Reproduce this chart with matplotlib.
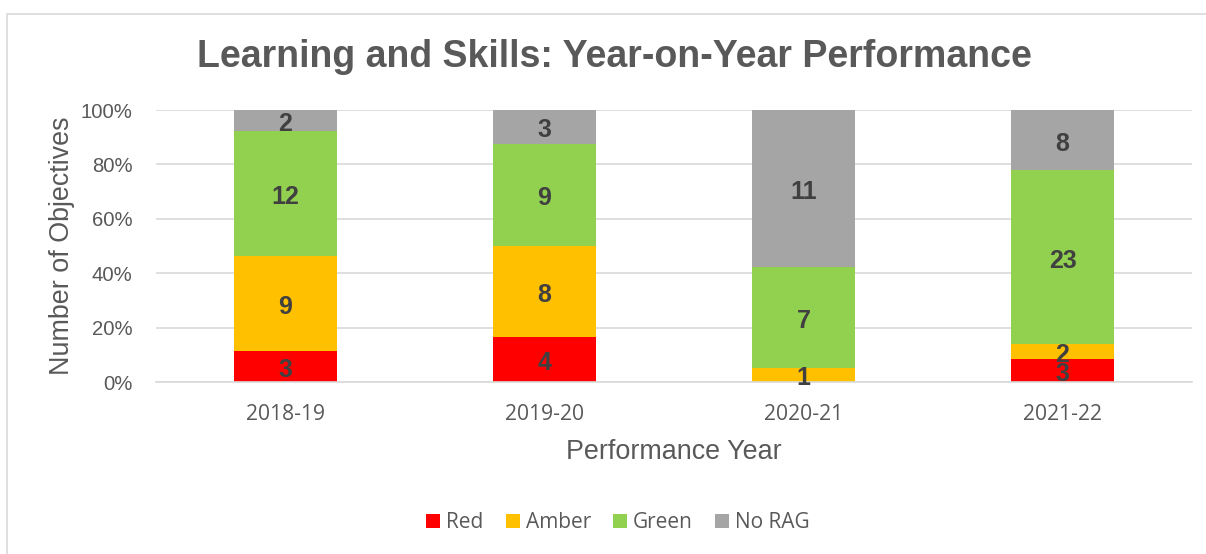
import matplotlib
matplotlib.use('Agg')
import matplotlib.pyplot as plt
from matplotlib.patches import Rectangle
import numpy as np

years = ['2018-19', '2019-20', '2020-21', '2021-22']
red = [3, 4, 0, 3]
amber = [9, 8, 1, 2]
green = [12, 9, 7, 23]
no_rag = [2, 3, 11, 8]

series = [('Red', red, '#FF0000'), ('Amber', amber, '#FFC000'),
          ('Green', green, '#92D050'), ('No RAG', no_rag, '#A5A5A5')]

totals = np.array(red) + np.array(amber) + np.array(green) + np.array(no_rag)

fig = plt.figure(figsize=(12.06, 5.54), dpi=100)
ax = fig.add_axes([156 / 1206, 1 - 382 / 554, (1192 - 156) / 1206, (382 - 110) / 554])

# chart border
fig.patches.append(Rectangle((7 / 1206, -0.01), 1.05, 1 - 14 / 554 + 0.01, transform=fig.transFigure,
                             fill=False, edgecolor='#D9D9D9', lw=1.2))

x = np.arange(len(years))
bottom = np.zeros(len(years))
for name, vals, col in series:
    share = np.array(vals) / totals
    ax.bar(x, share, 0.4, bottom=bottom, color=col, label=name, zorder=2)
    for xi, v, b, s in zip(x, vals, bottom, share):
        if v > 0:
            ax.annotate(str(v), (xi, b + s / 2), xytext=(0, -2.5), textcoords='offset points',
                        ha='center', va='center', fontsize=18, fontweight='bold',
                        color='#404040', family='Liberation Sans', zorder=3)
    bottom += share

ax.set_xlim(-0.5, 3.5)
ax.set_ylim(0, 1)
ax.set_yticks(np.arange(0, 1.01, 0.2))
ax.set_yticklabels([f'{int(t * 100)}%' for t in np.arange(0, 1.01, 0.2)],
                   fontsize=14.6, color='#595959', family='Liberation Sans')
ax.set_xticks(x)
ax.set_xticklabels(years, fontsize=15.2, color='#595959', family='Open Sans')
ax.tick_params(length=0)
ax.tick_params(axis='x', pad=16)
ax.tick_params(axis='y', pad=17)
ax.grid(axis='y', color='#D9D9D9', lw=1.2, zorder=0)
for s in ['top', 'right', 'left']:
    ax.spines[s].set_visible(False)
ax.spines['bottom'].set_color('#D9D9D9')
ax.spines['bottom'].set_linewidth(1.2)

ax.set_xlabel('Performance Year', fontsize=19.4, color='#595959', family='Liberation Sans', labelpad=10)
ax.set_ylabel('Number of Objectives', fontsize=19.4, color='#595959', family='Liberation Sans', labelpad=4)

fig.text(614 / 1206, 1 - 57 / 554, 'Learning and Skills: Year-on-Year Performance', ha='center', va='center',
         fontsize=27, fontweight='bold', color='#595959', family='Liberation Sans')

leg = fig.legend(loc='center', bbox_to_anchor=(618 / 1206, 1 - 523 / 554), ncol=4, frameon=False,
                 prop={'family': 'Open Sans', 'size': 15}, handlelength=0.67, handleheight=0.67,
                 handletextpad=0.3, columnspacing=1.05)
for t in leg.get_texts():
    t.set_color('#595959')

fig.savefig('out.png', dpi=100)
